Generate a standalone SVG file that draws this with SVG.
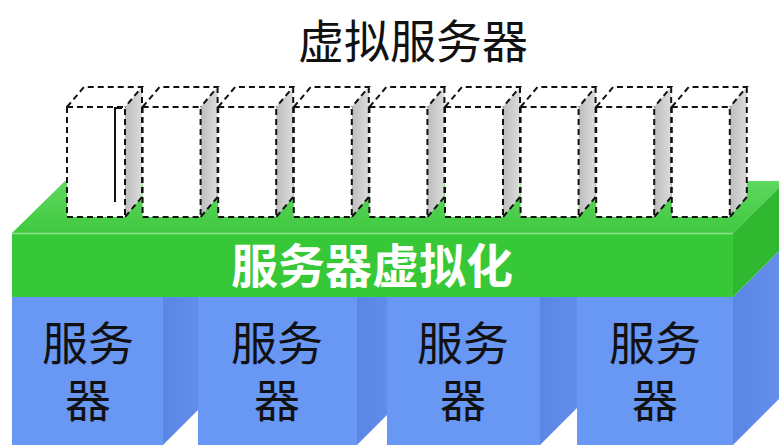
<svg xmlns="http://www.w3.org/2000/svg" width="779" height="445" viewBox="0 0 779 445">
<defs>
<linearGradient id="gSide" x1="0" y1="0" x2="1" y2="0">
<stop offset="0" stop-color="#bdbdbd"/><stop offset="1" stop-color="#dcdcdc"/>
</linearGradient>
<linearGradient id="gTop" x1="0" y1="0" x2="0" y2="1">
<stop offset="0" stop-color="#5ed85e"/><stop offset="1" stop-color="#40c840"/>
</linearGradient>
<linearGradient id="bSide" x1="0" y1="0" x2="1" y2="0">
<stop offset="0" stop-color="#5a86e4"/><stop offset="1" stop-color="#6690ec"/>
</linearGradient>
<g id="vs">
<polygon points="0,20 17,0 75,0 58,20" fill="#ffffff"/>
<polygon points="58,20 75,0 75,110 58,130" fill="url(#gSide)"/>
<rect x="0" y="20" width="58" height="110" fill="#ffffff"/>
<path class="dash" d="M0,20 H58 V130 H0 Z M0,20 L17,0 H75 L58,20 M75,0 V110 L58,130"/>
</g>
</defs>
<style>
.dash{fill:none;stroke:#111;stroke-width:2;stroke-dasharray:6 4}
.front{fill:#6897f4}
.side{fill:url(#bSide)}
.lbl{font-family:"Noto Sans CJK SC","Noto Sans",sans-serif;font-size:46px;fill:#111;text-anchor:middle}
.vt{font-family:"Noto Sans CJK SC","Noto Sans",sans-serif;font-size:47px;font-weight:bold;fill:#ffffff;text-anchor:middle}
.title{font-family:"Noto Sans CJK SC","Noto Sans",sans-serif;font-size:46px;fill:#111;text-anchor:middle}
</style>
<rect width="779" height="445" fill="#ffffff"/>

<g id="servers">
<g id="server1">
<rect class="front" x="12" y="297" width="151" height="148"/>
<polygon class="side" points="163,297 216,244 216,392 163,445"/>
</g>
<g id="server2">
<rect class="front" x="198" y="297" width="159" height="148"/>
<polygon class="side" points="357,297 410,244 410,392 357,445"/>
</g>
<g id="server3">
<rect class="front" x="387" y="297" width="153" height="148"/>
<polygon class="side" points="540,297 593,244 593,392 540,445"/>
</g>
<g id="server4">
<rect class="front" x="577" y="297" width="156" height="148"/>
<polygon class="side" points="733,297 786,244 786,392 733,445"/>
</g>
<text class="lbl"><tspan x="88" y="360">服务</tspan><tspan x="88" y="417">器</tspan></text>
<text class="lbl"><tspan x="277" y="360">服务</tspan><tspan x="277" y="417">器</tspan></text>
<text class="lbl"><tspan x="463" y="360">服务</tspan><tspan x="463" y="417">器</tspan></text>
<text class="lbl"><tspan x="655" y="360">服务</tspan><tspan x="655" y="417">器</tspan></text>
</g>

<g id="platform">
<polygon points="12,233 65,181 786,181 733,233" fill="url(#gTop)"/>
<polygon points="733,233 786,181 786,244 733,297" fill="#30b830"/>
<rect x="12" y="233" width="721" height="64" fill="#36c836"/>
<line x1="12" y1="233.5" x2="733" y2="233.5" stroke="#8ee28e" stroke-width="1.5"/>
<text class="vt" x="372" y="283">服务器虚拟化</text>
</g>

<g id="virtual-servers">
<use href="#vs" x="67" y="87"/>
<use href="#vs" x="142.6" y="87"/>
<use href="#vs" x="218.2" y="87"/>
<use href="#vs" x="293.8" y="87"/>
<use href="#vs" x="369.4" y="87"/>
<use href="#vs" x="445" y="87"/>
<use href="#vs" x="520.6" y="87"/>
<use href="#vs" x="596.2" y="87"/>
<use href="#vs" x="671.8" y="87"/>
<path d="M122,108 H115 V202" fill="none" stroke="#111" stroke-width="2"/>
</g>

<g id="title">
<text class="title" x="413" y="58">虚拟服务器</text>
</g>
</svg>
